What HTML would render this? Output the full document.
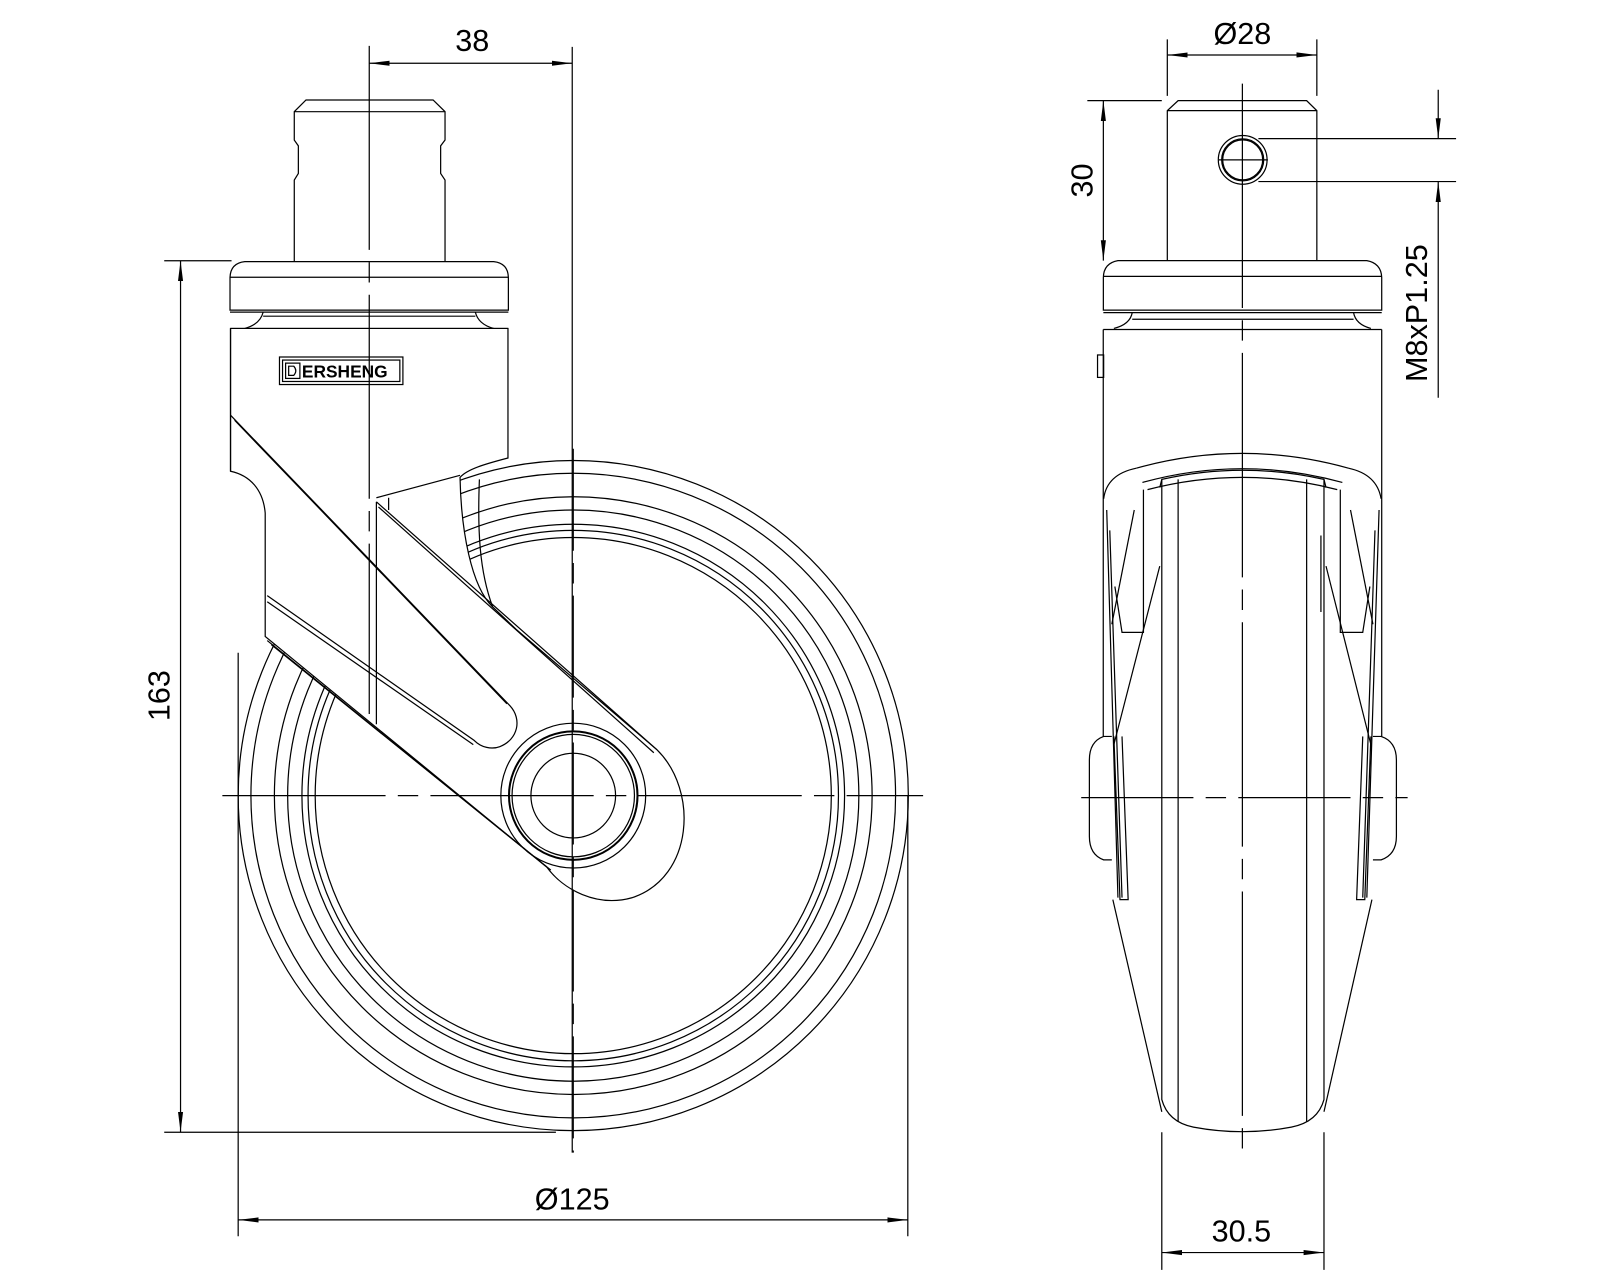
<!DOCTYPE html>
<html><head><meta charset="utf-8"><style>
html,body{margin:0;padding:0;background:#fff;}
svg{display:block;}
text{font-family:"Liberation Sans",sans-serif;font-size:30px;fill:#000;}
</style></head><body>
<svg width="1600" height="1280" viewBox="0 0 1568.6 1254.9" preserveAspectRatio="none" xmlns="http://www.w3.org/2000/svg">
<defs>
<marker id="a" viewBox="0 0 20 8" refX="20" refY="4" markerWidth="20" markerHeight="8" markerUnits="userSpaceOnUse" orient="auto-start-reverse">
<path d="M0,1.5 L20,4 L0,6.5 Z" fill="#000"/></marker>
</defs>
<g fill="none" stroke="#000" stroke-width="1.2">
<!-- ===== LEFT VIEW ===== -->
<g>
<circle cx="562" cy="780" r="328.5"/>
<circle cx="562" cy="780" r="316"/>
<circle cx="562" cy="780" r="293"/>
<circle cx="562" cy="780" r="280"/>
<circle cx="562" cy="780" r="266"/>
<circle cx="562" cy="780" r="260"/>
<circle cx="562" cy="780" r="253"/>
</g>
<path fill="#fff" d="M226,322 L498,322 L498,449 C475,455 458,460 451,468 C452,520 462,575 483,595 L506,617 L644,735 C685,775 680,860 620,880 C585,890 552,872 536,850 L260,624 L260,503 C258,480 245,466 226,462 Z"/>
<path d="M226,322 L226,462"/>
<path d="M226,407 L500,692 C512,705 508,725 490,732 C482,735 472,733 465,726 L262,584"/>
<path d="M230,412 L497,690"/>
<path d="M262,590 L464,730"/>
<path d="M369,492 L644,735"/>
<path d="M371,497 L641,738"/>
<path d="M369,488 L451,466"/>
<path d="M369,492 L369,710"/>
<path d="M381,488 L381,500"/>
<path d="M262,628 L536,850"/>
<path d="M266,632 L540,853"/>
<path d="M470,470 C468,520 470,560 483,595"/>
<circle cx="562" cy="780" r="71"/>
<circle cx="562" cy="780" r="63" stroke-width="2"/>
<circle cx="562" cy="780" r="60"/>
<circle cx="562" cy="780" r="41.5"/>
<!-- logo -->
<rect x="274" y="350" width="121" height="27"/>
<rect x="277" y="353" width="115" height="21"/>
<rect x="280" y="356" width="14" height="15"/>
<path d="M283,359 L288,359 Q292,363.5 288,368 L283,368 Z"/>
<!-- collar & stem -->
<path d="M288.5,256.5 L288.5,176.5 L292.5,170 L292.5,143 L288.5,137.3 L288.5,109.5 L300,98 L424.6,98 L436.3,109.5 L436.3,137.3 L432,143 L432,170 L436.3,176.5 L436.3,256.5"/>
<path d="M288.5,109.5 L436.3,109.5"/>
<path d="M240,256.5 L484,256.5 Q498,258 498.4,272 L498.4,304 L225.5,304 L225.5,272 Q226,258 240,256.5 Z"/>
<path d="M225.5,271.8 L498.4,271.8"/>
<path d="M225.5,306 L498.4,306"/>
<path d="M258,306 Q255,318 240,322 M466,306 Q469,318 484,322"/>
<path d="M258,310 L466,310"/>
<path d="M226,322 L498,322"/>
<path d="M218,780 L905,780" stroke-dasharray="160,12,20,12"/>
<path d="M562,440 L562,1130" stroke-dasharray="100,12,20,12"/>
<path d="M362,45 L362,700" stroke-dasharray="200,12,20,12"/>
<path d="M561,46 L561,1130"/>
<path d="M362,62 L561,62" marker-start="url(#a)" marker-end="url(#a)"/>
<path d="M161,255.6 L227,255.6"/>
<path d="M161,1110 L545,1110"/>
<path d="M177,255.6 L177,1110" marker-start="url(#a)" marker-end="url(#a)"/>
<path d="M233.5,640 L233.5,1212"/>
<path d="M890,780 L890,1212"/>
<path d="M233.5,1196 L890,1196" marker-start="url(#a)" marker-end="url(#a)"/>

<!-- ===== RIGHT VIEW ===== -->
<path d="M1139,470 L1139,1078 Q1145,1100 1170,1105 Q1218,1114 1266,1105 Q1292,1100 1298,1078 L1298,470"/>
<path d="M1155,470 L1155,1100 M1281,470 L1281,1100"/>
<path d="M1081.6,323 L1081.6,722 M1354.6,323 L1354.6,722"/>
<path d="M1114,459 Q1218,430 1322,459"/>
<path d="M1114,459 Q1085,465 1082,489 M1322,459 Q1350,465 1354,489"/>
<path d="M1120,473 Q1218,446 1316,473"/>
<path d="M1125,480 Q1218,456 1311,480"/>
<path d="M1137,478 L1139,470 Q1218,452 1298,470 L1300,478"/>
<path d="M1121,480 L1121,620 L1100,620 L1093,575 M1314,480 L1314,620 L1336,620 L1343,575"/>
<path d="M1112,500 L1090,612 M1324,500 L1346,612"/>
<path d="M1137,555 L1092,730 M1300,555 L1344,730"/>
<path d="M1085,500 L1096,880 M1352,500 L1340,880"/>
<path d="M1088,520 L1100,880 M1348,520 L1336,880"/>
<path d="M1091,882 L1139,1090 M1345,882 L1298,1090"/>
<path d="M1090,722 L1082,722 Q1068,727 1068,745 L1068,820 Q1068,838 1082,843 L1090,843"/>
<path d="M1346,722 L1354,722 Q1369,727 1369,745 L1369,820 Q1369,838 1354,843 L1346,843"/>
<path d="M1092,722 L1098,882 L1106,882 L1100,722 M1344,722 L1338,882 L1330,882 L1336,722"/>
<path d="M1295,525 L1295,600"/>
<rect x="1076" y="348" width="6" height="22"/>
<path d="M1144.4,255.5 L1144.4,108.5 L1155,98.7 L1281,98.7 L1291,108.5 L1291,255.5"/>
<path d="M1144.4,108.5 L1291,108.5"/>
<path d="M1096,255.5 L1340,255.5 Q1354,258 1354.6,272 L1354.6,304 L1081.7,304 L1081.7,272 Q1082,258 1096,255.5 Z"/>
<path d="M1081.7,271 L1354.6,271 M1081.7,306.5 L1354.6,306.5"/>
<path d="M1110,306.5 Q1108,318 1092,322 M1327,306.5 Q1329,318 1344,322"/>
<path d="M1110,313 L1327,313 M1081.6,323 L1354.6,323"/>
<circle cx="1218.3" cy="156.7" r="23.9"/>
<circle cx="1218.3" cy="156.7" r="20.6"/>
<circle cx="1218.3" cy="156.7" r="19.6"/>
<path d="M1218,82 L1218,1130" stroke-dasharray="220,12,20,12"/>
<path d="M1060,782 L1380,782" stroke-dasharray="110,12,20,12"/>
<path d="M1195,156.7 L1243,156.7"/>
<path d="M1144.4,38.6 L1144.4,94 M1291,38.6 L1291,94"/>
<path d="M1144.4,53.9 L1291,53.9" marker-start="url(#a)" marker-end="url(#a)"/>
<path d="M1066,98.7 L1139,98.7"/>
<path d="M1081.7,98.7 L1081.7,255.5" marker-start="url(#a)" marker-end="url(#a)"/>
<path d="M1233.7,135.9 L1427.5,135.9 M1233.7,178 L1427.5,178"/>
<path d="M1410,88 L1410,135.9" marker-end="url(#a)"/>
<path d="M1410,390 L1410,178" marker-end="url(#a)"/>
<path d="M1139,1110 L1139,1245 M1298,1110 L1298,1245"/>
<path d="M1139,1228 L1298,1228" marker-start="url(#a)" marker-end="url(#a)"/>
</g>
<text x="296" y="370" style="font-size:17px;font-weight:bold">ERSHENG</text>
<text x="463" y="50" text-anchor="middle">38</text>
<text x="561" y="1186" text-anchor="middle">Ø125</text>
<text transform="translate(166,682) rotate(-90)" text-anchor="middle">163</text>
<text x="1218" y="43" text-anchor="middle">Ø28</text>
<text transform="translate(1071,177) rotate(-90)" text-anchor="middle">30</text>
<text transform="translate(1399,307) rotate(-90)" text-anchor="middle">M8xP1.25</text>
<text x="1217" y="1217" text-anchor="middle">30.5</text>
</svg>
</body></html>
